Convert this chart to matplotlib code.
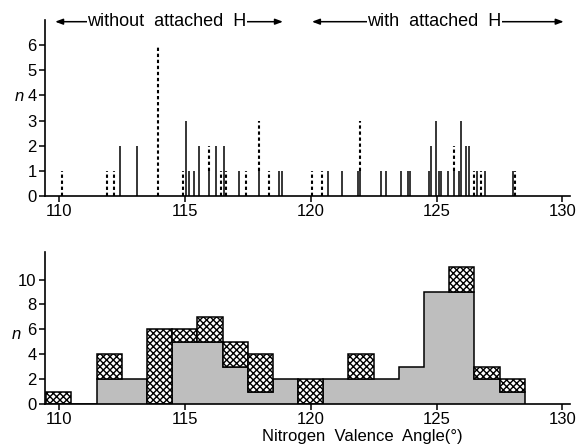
import numpy as np
import matplotlib
matplotlib.use('Agg')
import matplotlib.pyplot as plt

plt.rcParams['font.family'] = ['Liberation Sans', 'DejaVu Sans']
plt.rcParams['hatch.linewidth'] = 1.0

# top panel: individual angles, solid (shaded group) and dashed (hatched group) counts
angles = [110.13, 111.93, 112.2, 112.43, 113.1, 113.94, 114.91, 115.04, 115.17, 115.35,
          115.56, 115.95, 116.23, 116.43, 116.56, 116.65, 117.14, 117.43, 117.96, 118.35,
          118.74, 118.87, 120.05, 120.46, 120.69, 121.26, 121.88, 121.96, 122.78, 123.0,
          123.57, 123.88, 123.96, 124.7, 124.79, 124.99, 125.08, 125.19, 125.45, 125.68,
          125.89, 125.98, 126.18, 126.28, 126.48, 126.61, 126.75, 126.92, 128.03, 128.1]
n_solid = [0, 0, 0, 2, 2, 0, 0, 3, 1, 1,
           2, 1, 2, 0, 2, 0, 1, 0, 1, 0,
           1, 1, 0, 0, 1, 1, 1, 1, 1, 1,
           1, 1, 1, 1, 2, 3, 1, 1, 1, 1,
           1, 3, 2, 2, 0, 1, 0, 1, 1, 0]
n_dashed = [1, 1, 1, 0, 0, 6, 1, 0, 0, 0,
            0, 1, 0, 1, 0, 1, 0, 1, 2, 1,
            0, 0, 1, 1, 0, 0, 0, 2, 0, 0,
            0, 0, 0, 0, 0, 0, 0, 0, 0, 1,
            0, 0, 0, 0, 1, 0, 1, 0, 0, 1]

# bottom panel: histogram, 1 degree bins centred on integers
bin_centres = list(range(110, 129))
shaded = [0, 0, 2, 2, 0, 5, 5, 3, 1, 2, 0, 2, 2, 2, 3, 9, 9, 2, 1]
hatched = [1, 0, 2, 0, 6, 1, 2, 2, 3, 0, 2, 0, 2, 0, 0, 0, 2, 1, 1]

xticks = [110, 115, 120, 125, 130]

angles = np.array(angles)
n_solid = np.array(n_solid)
n_dashed = np.array(n_dashed)
shaded = np.array(shaded)
hatched = np.array(hatched)

fig = plt.figure(figsize=(5.81, 4.48), dpi=100)
ax1 = fig.add_axes([0.0775, 0.5625, 0.9036, 0.393])
ax2 = fig.add_axes([0.0775, 0.0982, 0.9036, 0.339])

for ax in (ax1, ax2):
    ax.spines['top'].set_visible(False)
    ax.spines['right'].set_visible(False)
    ax.spines['left'].set_linewidth(1.2)
    ax.spines['bottom'].set_linewidth(1.2)
    ax.set_xlim(109.45, 130.3)
    ax.set_xticks(xticks)
    ax.tick_params(direction='out', length=4, width=1.1, labelsize=12, pad=2)

# top: line spectrum
m = n_solid > 0
ax1.vlines(angles[m], 0, n_solid[m], colors='black', lw=1.1)
m = n_dashed > 0
ax1.vlines(angles[m], n_solid[m], n_solid[m] + n_dashed[m], colors='black', lw=1.5,
           linestyles=(0, (1.6, 1.3)))
ax1.set_ylim(0, 7)
ax1.set_yticks(range(0, 7))
ax1.set_ylabel('n', rotation=0, style='italic', fontsize=12)
ax1.yaxis.set_label_coords(-0.048, 0.52)

# group labels with arrows
ytxt = 6.93
for x0, x1 in [(109.85, 118.9), (120.05, 130.05)]:
    ax1.annotate('', xy=(x0, ytxt), xytext=(x1, ytxt), annotation_clip=False,
                 arrowprops=dict(arrowstyle='<|-|>,head_length=0.45,head_width=0.17',
                                 color='black', lw=1.1, shrinkA=0, shrinkB=0))
ax1.text(114.3, ytxt, 'without  attached  H', ha='center', va='center', fontsize=13,
         bbox=dict(facecolor='white', edgecolor='none', pad=0.3), clip_on=False)
ax1.text(124.9, ytxt, 'with  attached  H', ha='center', va='center', fontsize=13,
         bbox=dict(facecolor='white', edgecolor='none', pad=0.3), clip_on=False)

# bottom: stacked histogram
edges = np.arange(109.5, 129.5, 1.0)
ax2.bar(bin_centres, shaded, width=1.0, color='#bebebe', lw=0)
ax2.stairs(shaded, edges, color='black', lw=1.1, baseline=0)
m = hatched > 0
ax2.bar(np.array(bin_centres)[m], hatched[m], bottom=shaded[m], width=1.0, color='white',
        edgecolor='black', lw=1.1, hatch='xxxxx')
ax2.set_ylim(0, 12.2)
ax2.set_yticks(range(0, 11, 2))
ax2.set_ylabel('n', rotation=0, style='italic', fontsize=12)
ax2.yaxis.set_label_coords(-0.055, 0.41)

fig.text(0.623, 0.025, 'Nitrogen  Valence  Angle(°)', ha='center', va='center', fontsize=12)

fig.savefig('out.png', dpi=100)
